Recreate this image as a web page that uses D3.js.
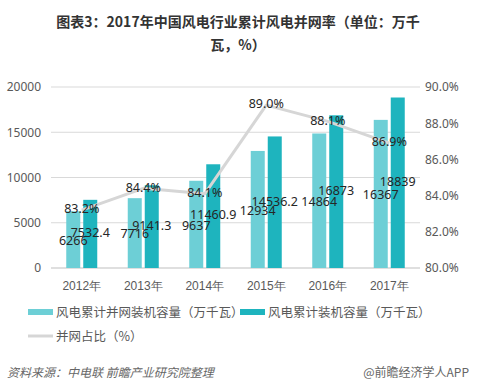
<!DOCTYPE html>
<html><head><meta charset="utf-8">
<script src="https://cdn.jsdelivr.net/npm/d3@7"></script>
<style>
body{margin:0;background:#fff;}
svg{display:block;font-family:"Microsoft YaHei","Noto Sans CJK SC",sans-serif;}
</style></head>
<body><svg id="c" width="477" height="391"></svg>
<script>
const categories = ["2012年","2013年","2014年","2015年","2016年","2017年"];
const gridConnected = [6266, 7716, 9637, 12934, 14864, 16367];
const installed = [7532.4, 9141.3, 11460.9, 14536.2, 16873, 18839];
const ratio = [83.2, 84.4, 84.1, 89.0, 88.1, 86.9];
const leftTicks = [0, 5000, 10000, 15000, 20000];
const rightTicks = [80, 82, 84, 86, 88, 90];
const seriesNames = ["风电累计并网装机容量（万千瓦）","风电累计装机容量（万千瓦）","并网占比（%）"];

const svg = d3.select("#c");
const colLight = "#6dcfd6", colDark = "#1eb4be", colLine = "#d6d6d6";
const m = {l:51, r:420, t:87, b:268};

svg.append("text").attr("x",238).attr("y",27).attr("text-anchor","middle")
  .attr("font-size",14).attr("font-weight","bold").attr("fill","#333")
  .text("图表3：2017年中国风电行业累计风电并网率（单位：万千");
svg.append("text").attr("x",238).attr("y",50).attr("text-anchor","middle")
  .attr("font-size",14).attr("font-weight","bold").attr("fill","#333")
  .text("瓦，%）");

const x = d3.scaleBand().domain(categories).range([m.l, m.r]);
const yL = d3.scaleLinear().domain([0,20000]).range([m.b, m.t]);
const yR = d3.scaleLinear().domain([80,90]).range([m.b, m.t]);

// grid
svg.append("g").selectAll("line").data(leftTicks).join("line")
  .attr("x1",m.l).attr("x2",m.r).attr("y1",d=>yL(d)).attr("y2",d=>yL(d))
  .attr("stroke",d=>d===0?"#bfbfbf":"#d9d9d9").attr("stroke-width",1);

// left axis
const gl = svg.append("g").attr("transform",`translate(${m.l-10},0)`)
  .call(d3.axisLeft(yL).tickValues(leftTicks).tickSize(0).tickPadding(0).tickFormat(d3.format("d")));
gl.select(".domain").remove();
gl.selectAll("text").attr("font-size",12).attr("fill","#595959").attr("font-family","'Microsoft YaHei','Noto Sans',sans-serif");

// right axis
const gr = svg.append("g").attr("transform",`translate(${m.r+5},0)`)
  .call(d3.axisRight(yR).tickValues(rightTicks).tickSize(0).tickPadding(0).tickFormat(d=>d.toFixed(1)+"%"));
gr.select(".domain").remove();
gr.selectAll("text").attr("font-size",12).attr("fill","#595959").attr("font-family","'Microsoft YaHei','Noto Sans',sans-serif");

// x axis
const gx = svg.append("g").attr("transform",`translate(0,${m.b})`)
  .call(d3.axisBottom(x).tickSize(0).tickPadding(13));
gx.select(".domain").remove();
gx.selectAll("text").attr("font-size",12).attr("fill","#595959");

const bw = 14, gap = 3;
const cx = d => x(d) + x.bandwidth()/2;

// bars
svg.append("g").selectAll("rect").data(categories).join("rect")
  .attr("x",(d)=>cx(d)-gap/2-bw).attr("width",bw)
  .attr("y",(d,i)=>yL(gridConnected[i])).attr("height",(d,i)=>m.b-yL(gridConnected[i]))
  .attr("fill",colLight);
svg.append("g").selectAll("rect").data(categories).join("rect")
  .attr("x",(d)=>cx(d)+gap/2).attr("width",bw)
  .attr("y",(d,i)=>yL(installed[i])).attr("height",(d,i)=>m.b-yL(installed[i]))
  .attr("fill",colDark);

// line
const line = d3.line().x((d,i)=>cx(categories[i])).y(d=>yR(d));
svg.append("path").datum(ratio).attr("d",line).attr("fill","none")
  .attr("stroke",colLine).attr("stroke-width",3).attr("stroke-linejoin","round");

// labels
const lblFont = "'Microsoft YaHei','Noto Sans',sans-serif";
svg.append("g").selectAll("text").data(categories).join("text")
  .attr("x",d=>cx(d)-gap/2-bw/2).attr("y",(d,i)=>yL(gridConnected[i]/2)+2)
  .attr("text-anchor","middle").attr("dominant-baseline","middle")
  .attr("font-size",12.5).attr("fill","#262626").attr("font-family",lblFont)
  .text((d,i)=>gridConnected[i]);
svg.append("g").selectAll("text").data(categories).join("text")
  .attr("x",d=>cx(d)+gap/2+bw/2).attr("y",(d,i)=>yL(installed[i]/2))
  .attr("text-anchor","middle").attr("dominant-baseline","middle")
  .attr("font-size",12.5).attr("fill","#262626").attr("font-family",lblFont)
  .text((d,i)=>installed[i]);
svg.append("g").selectAll("text").data(categories).join("text")
  .attr("x",d=>cx(d)).attr("y",(d,i)=>yR(ratio[i]))
  .attr("text-anchor","middle").attr("dominant-baseline","middle")
  .attr("font-size",12.5).attr("fill","#262626").attr("font-family",lblFont)
  .text((d,i)=>ratio[i].toFixed(1)+"%");

// legend
const lg = svg.append("g").attr("font-size",12.5).attr("fill","#595959");
lg.append("rect").attr("x",28).attr("y",309).attr("width",25).attr("height",6).attr("fill",colLight);
lg.append("text").attr("x",56).attr("y",317).text(seriesNames[0]);
lg.append("rect").attr("x",240).attr("y",309).attr("width",25).attr("height",6).attr("fill",colDark);
lg.append("text").attr("x",268).attr("y",317).text(seriesNames[1]);
lg.append("line").attr("x1",28).attr("x2",53).attr("y1",336).attr("y2",336).attr("stroke",colLine).attr("stroke-width",3);
lg.append("text").attr("x",56).attr("y",341).text(seriesNames[2]);

// footer
svg.append("text").attr("x",7).attr("y",377).attr("font-size",12).attr("font-style","italic")
  .attr("fill","#666").text("资料来源：中电联 前瞻产业研究院整理");
svg.append("text").attr("x",469).attr("y",377).attr("text-anchor","end").attr("font-size",12)
  .attr("fill","#666").text("@前瞻经济学人APP");
</script></body></html>
